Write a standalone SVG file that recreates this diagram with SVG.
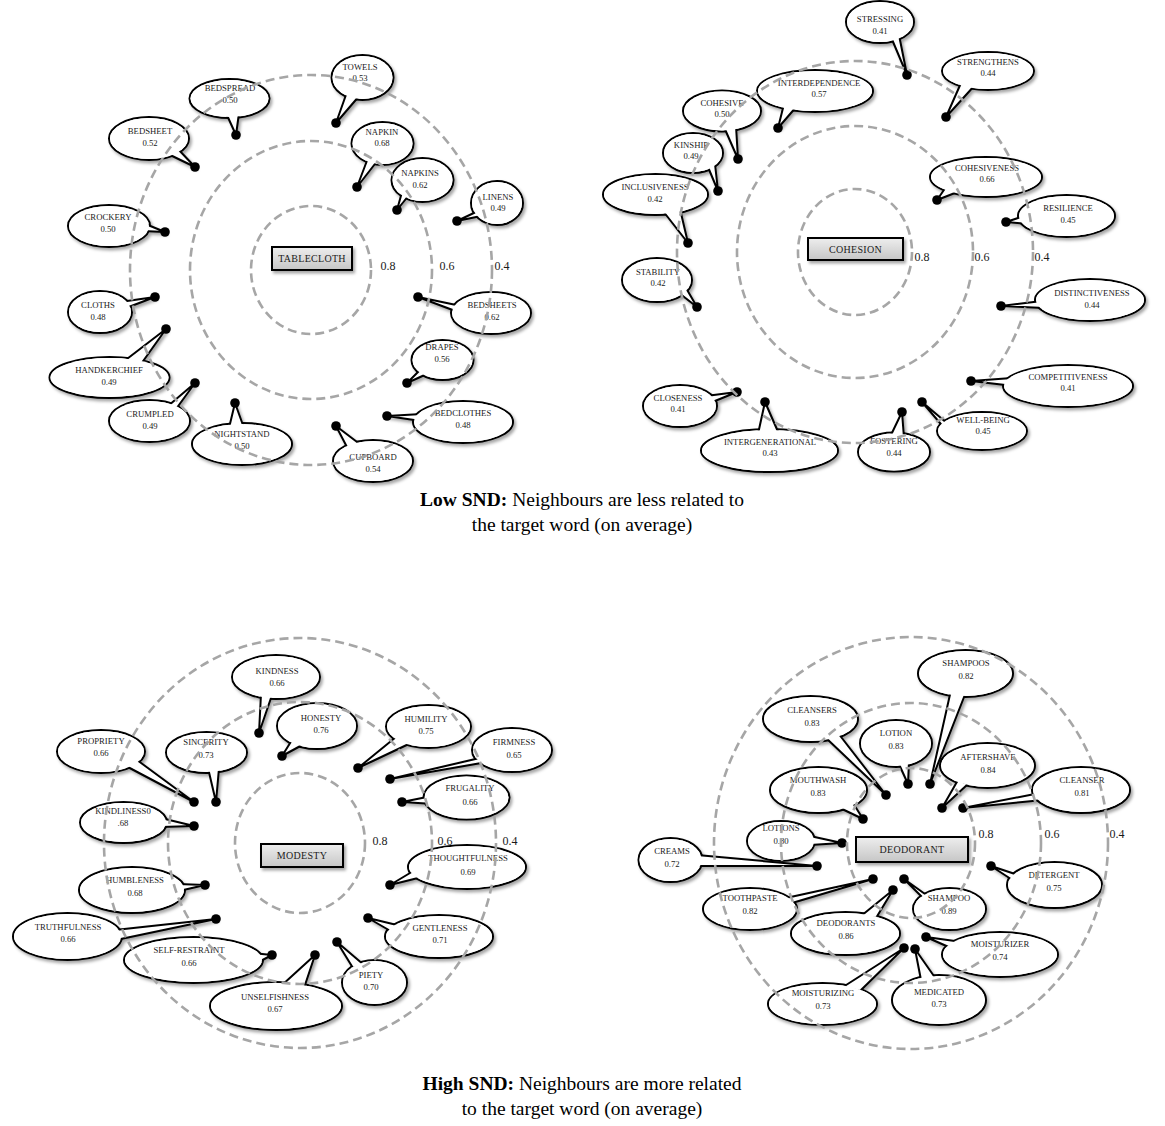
<svg xmlns="http://www.w3.org/2000/svg" width="1165" height="1126" viewBox="0 0 1165 1126">
<style>
.b{fill:#fff;stroke:#000;stroke-width:2}
.c{fill:#fff;stroke:none}
.t{fill:#fff;stroke:#000;stroke-width:2;stroke-linejoin:round}
.s{filter:url(#sh)}
.d{fill:#000}
.l{font-family:"Liberation Serif",serif;font-size:8.7px;text-anchor:middle;fill:#1a1a1a}
.ring{fill:none;stroke:#a6a6a6;stroke-width:2.6;stroke-dasharray:9 5}
.sc{font-family:"Liberation Serif",serif;font-size:12px;text-anchor:middle;fill:#1a1a1a}
.box{fill:url(#gb);stroke:#000;stroke-width:2}
.bt{font-family:"Liberation Serif",serif;font-size:10px;text-anchor:middle;fill:#1a1a1a;letter-spacing:0.3px}
.cap{font-family:"Liberation Serif",serif;font-size:19.5px;text-anchor:middle;fill:#000}
</style>
<defs>
<filter id="sh" x="-20%" y="-20%" width="150%" height="150%"><feDropShadow dx="2" dy="2.5" stdDeviation="1.8" flood-color="#000" flood-opacity="0.35"/></filter>
<linearGradient id="gb" x1="0" y1="0" x2="0" y2="1"><stop offset="0" stop-color="#eeeeee"/><stop offset="1" stop-color="#c6c6c6"/></linearGradient>
</defs>
<rect width="1165" height="1126" fill="#fff"/>

<!-- TABLECLOTH -->
<g id="tablecloth">
<g id="n-bedspread"><g class="s"><ellipse class="b" cx="229.5" cy="98.5" rx="40" ry="19.5"/><polygon class="t" points="226,113 236,135 239,113"/><ellipse class="c" cx="229.5" cy="98.5" rx="39" ry="18.5"/></g><circle class="d" cx="236" cy="135" r="4.8"/><text class="l" x="230" y="91">BEDSPREAD</text><text class="l" x="230" y="103">0.50</text></g>
<g id="n-bedsheet"><g class="s"><ellipse class="b" cx="149" cy="138.5" rx="40" ry="21.5"/><polygon class="t" points="166,153 195,167 177,148"/><ellipse class="c" cx="149" cy="138.5" rx="39" ry="20.5"/></g><circle class="d" cx="195" cy="167" r="4.8"/><text class="l" x="150" y="134">BEDSHEET</text><text class="l" x="150" y="146">0.52</text></g>
<g id="n-crockery"><g class="s"><ellipse class="b" cx="109" cy="226" rx="41" ry="21"/><polygon class="t" points="143,223 165,232 143,231"/><ellipse class="c" cx="109" cy="226" rx="40" ry="20"/></g><circle class="d" cx="165" cy="232" r="4.8"/><text class="l" x="108" y="220">CROCKERY</text><text class="l" x="108" y="232">0.50</text></g>
<g id="n-towels"><g class="s"><ellipse class="b" cx="362.5" cy="77.5" rx="31" ry="22.5"/><polygon class="t" points="347,92 336,123 360,95"/><ellipse class="c" cx="362.5" cy="77.5" rx="30" ry="21.5"/></g><circle class="d" cx="336" cy="123" r="4.8"/><text class="l" x="360" y="70">TOWELS</text><text class="l" x="360" y="81">0.53</text></g>
<g id="n-napkin"><g class="s"><ellipse class="b" cx="382.5" cy="143.5" rx="31" ry="21.5"/><polygon class="t" points="368,158 357,187 378,160"/><ellipse class="c" cx="382.5" cy="143.5" rx="30" ry="20.5"/></g><circle class="d" cx="357" cy="187" r="4.8"/><text class="l" x="382" y="135">NAPKIN</text><text class="l" x="382" y="146">0.68</text></g>
<g id="n-napkins"><g class="s"><ellipse class="b" cx="422.5" cy="180" rx="31" ry="22"/><polygon class="t" points="402,192 397,210 409,195"/><ellipse class="c" cx="422.5" cy="180" rx="30" ry="21"/></g><circle class="d" cx="397" cy="210" r="4.8"/><text class="l" x="420" y="176">NAPKINS</text><text class="l" x="420" y="188">0.62</text></g>
<g id="n-linens"><g class="s"><ellipse class="b" cx="497" cy="203" rx="26" ry="22"/><polygon class="t" points="478,211 457,221 481,216"/><ellipse class="c" cx="497" cy="203" rx="25" ry="21"/></g><circle class="d" cx="457" cy="221" r="4.8"/><text class="l" x="498" y="200">LINENS</text><text class="l" x="498" y="211">0.49</text></g>
<g id="n-cloths"><g class="s"><ellipse class="b" cx="100" cy="312" rx="32" ry="21"/><polygon class="t" points="120,302 155,297 126,308"/><ellipse class="c" cx="100" cy="312" rx="31" ry="20"/></g><circle class="d" cx="155" cy="297" r="4.8"/><text class="l" x="98" y="308">CLOTHS</text><text class="l" x="98" y="320">0.48</text></g>
<g id="n-handkerchief"><g class="s"><ellipse class="b" cx="109.5" cy="377.5" rx="60" ry="20.5"/><polygon class="t" points="123,362 166,329 141,364"/><ellipse class="c" cx="109.5" cy="377.5" rx="59" ry="19.5"/></g><circle class="d" cx="166" cy="329" r="4.8"/><text class="l" x="109" y="373">HANDKERCHIEF</text><text class="l" x="109" y="385">0.49</text></g>
<g id="n-crumpled"><g class="s"><ellipse class="b" cx="149.5" cy="421" rx="40.5" ry="21"/><polygon class="t" points="168,406 195,383 176,409"/><ellipse class="c" cx="149.5" cy="421" rx="39.5" ry="20"/></g><circle class="d" cx="195" cy="383" r="4.8"/><text class="l" x="150" y="417">CRUMPLED</text><text class="l" x="150" y="429">0.49</text></g>
<g id="n-nightstand"><g class="s"><ellipse class="b" cx="242" cy="444" rx="50" ry="21"/><polygon class="t" points="229,428 235,403 244,428"/><ellipse class="c" cx="242" cy="444" rx="49" ry="20"/></g><circle class="d" cx="235" cy="403" r="4.8"/><text class="l" x="242" y="437">NIGHTSTAND</text><text class="l" x="242" y="449">0.50</text></g>
<g id="n-cupboard"><g class="s"><ellipse class="b" cx="373" cy="461" rx="40" ry="21"/><polygon class="t" points="348,449 336,426 361,445"/><ellipse class="c" cx="373" cy="461" rx="39" ry="20"/></g><circle class="d" cx="336" cy="426" r="4.8"/><text class="l" x="373" y="460">CUPBOARD</text><text class="l" x="373" y="472">0.54</text></g>
<g id="n-bedclothes"><g class="s"><ellipse class="b" cx="463" cy="422" rx="50" ry="21"/><polygon class="t" points="422,414 387,416 421,421"/><ellipse class="c" cx="463" cy="422" rx="49" ry="20"/></g><circle class="d" cx="387" cy="416" r="4.8"/><text class="l" x="463" y="416">BEDCLOTHES</text><text class="l" x="463" y="428">0.48</text></g>
<g id="n-drapes"><g class="s"><ellipse class="b" cx="442.5" cy="360" rx="31" ry="20"/><polygon class="t" points="421,369 407,383 429,373"/><ellipse class="c" cx="442.5" cy="360" rx="30" ry="19"/></g><circle class="d" cx="407" cy="383" r="4.8"/><text class="l" x="442" y="350">DRAPES</text><text class="l" x="442" y="362">0.56</text></g>
<g id="n-bedsheets"><g class="s"><ellipse class="b" cx="491" cy="313" rx="40" ry="21"/><polygon class="t" points="461,306 418,297 458,312"/><ellipse class="c" cx="491" cy="313" rx="39" ry="20"/></g><circle class="d" cx="418" cy="297" r="4.8"/><text class="l" x="492" y="308">BEDSHEETS</text><text class="l" x="492" y="320">0.62</text></g>
<g id="t-tablecloth"><rect class="box s" x="272" y="247" width="80" height="23"/><text class="bt" x="312" y="262">TABLECLOTH</text></g>
<g id="r-tablecloth"><ellipse class="ring" cx="311" cy="270" rx="60" ry="64"/><ellipse class="ring" cx="311" cy="270" rx="121" ry="129"/><ellipse class="ring" cx="311" cy="270" rx="181" ry="195"/>
<text class="sc" x="388" y="270">0.8</text><text class="sc" x="447" y="270">0.6</text><text class="sc" x="502" y="270">0.4</text></g>
</g>

<!-- COHESION -->
<g id="cohesion">
<g id="n-stressing"><g class="s"><ellipse class="b" cx="880" cy="22" rx="34" ry="21"/><polygon class="t" points="891,37 907,75 899,35"/><ellipse class="c" cx="880" cy="22" rx="33" ry="20"/></g><circle class="d" cx="907" cy="75" r="4.8"/><text class="l" x="880" y="22">STRESSING</text><text class="l" x="880" y="34">0.41</text></g>
<g id="n-strengthens"><g class="s"><ellipse class="b" cx="988" cy="71" rx="46" ry="19"/><polygon class="t" points="961,83 946,117 975,85"/><ellipse class="c" cx="988" cy="71" rx="45" ry="18"/></g><circle class="d" cx="946" cy="117" r="4.8"/><text class="l" x="988" y="65">STRENGTHENS</text><text class="l" x="988" y="76">0.44</text></g>
<g id="n-interdependence"><g class="s"><ellipse class="b" cx="815" cy="91" rx="58" ry="21"/><polygon class="t" points="784,104 778,128 797,106"/><ellipse class="c" cx="815" cy="91" rx="57" ry="20"/></g><circle class="d" cx="778" cy="128" r="4.8"/><text class="l" x="819" y="86">INTERDEPENDENCE</text><text class="l" x="819" y="97">0.57</text></g>
<g id="n-cohesive"><g class="s"><ellipse class="b" cx="722" cy="111" rx="39" ry="20.5"/><polygon class="t" points="724,127 738,159 736,126"/><ellipse class="c" cx="722" cy="111" rx="38" ry="19.5"/></g><circle class="d" cx="738" cy="159" r="4.8"/><text class="l" x="722" y="106">COHESIVE</text><text class="l" x="722" y="117">0.50</text></g>
<g id="n-kinship"><g class="s"><ellipse class="b" cx="693" cy="153" rx="30" ry="20"/><polygon class="t" points="708,167 718,191 715,164"/><ellipse class="c" cx="693" cy="153" rx="29" ry="19"/></g><circle class="d" cx="718" cy="191" r="4.8"/><text class="l" x="691" y="148">KINSHIP</text><text class="l" x="691" y="159">0.49</text></g>
<g id="n-inclusiveness"><g class="s"><ellipse class="b" cx="655.5" cy="194.5" rx="52.5" ry="20.5"/><polygon class="t" points="663,211 688,243 680,209"/><ellipse class="c" cx="655.5" cy="194.5" rx="51.5" ry="19.5"/></g><circle class="d" cx="688" cy="243" r="4.8"/><text class="l" x="655" y="190">INCLUSIVENESS</text><text class="l" x="655" y="202">0.42</text></g>
<g id="n-stability"><g class="s"><ellipse class="b" cx="657" cy="280" rx="35" ry="22"/><polygon class="t" points="679,293 697,307 686,288"/><ellipse class="c" cx="657" cy="280" rx="34" ry="21"/></g><circle class="d" cx="697" cy="307" r="4.8"/><text class="l" x="658" y="275">STABILITY</text><text class="l" x="658" y="286">0.42</text></g>
<g id="n-cohesiveness"><g class="s"><ellipse class="b" cx="986" cy="177" rx="56" ry="20"/><polygon class="t" points="946,187 937,200 960,191"/><ellipse class="c" cx="986" cy="177" rx="55" ry="19"/></g><circle class="d" cx="937" cy="200" r="4.8"/><text class="l" x="987" y="171">COHESIVENESS</text><text class="l" x="987" y="182">0.66</text></g>
<g id="n-resilience"><g class="s"><ellipse class="b" cx="1066.5" cy="216" rx="48.5" ry="21"/><polygon class="t" points="1024,216 1006,222 1028,224"/><ellipse class="c" cx="1066.5" cy="216" rx="47.5" ry="20"/></g><circle class="d" cx="1006" cy="222" r="4.8"/><text class="l" x="1068" y="211">RESILIENCE</text><text class="l" x="1068" y="223">0.45</text></g>
<g id="n-distinctiveness"><g class="s"><ellipse class="b" cx="1090" cy="300" rx="55" ry="21"/><polygon class="t" points="1042,301 1001,306 1044,308"/><ellipse class="c" cx="1090" cy="300" rx="54" ry="20"/></g><circle class="d" cx="1001" cy="306" r="4.8"/><text class="l" x="1092" y="296">DISTINCTIVENESS</text><text class="l" x="1092" y="308">0.44</text></g>
<g id="n-competitiveness"><g class="s"><ellipse class="b" cx="1068" cy="386" rx="65" ry="21"/><polygon class="t" points="1012,378 971,381 1014,386"/><ellipse class="c" cx="1068" cy="386" rx="64" ry="20"/></g><circle class="d" cx="971" cy="381" r="4.8"/><text class="l" x="1068" y="380">COMPETITIVENESS</text><text class="l" x="1068" y="391">0.41</text></g>
<g id="n-well-being"><g class="s"><ellipse class="b" cx="982" cy="431" rx="45" ry="19"/><polygon class="t" points="948,424 922,402 946,430"/><ellipse class="c" cx="982" cy="431" rx="44" ry="18"/></g><circle class="d" cx="922" cy="402" r="4.8"/><text class="l" x="983" y="423">WELL-BEING</text><text class="l" x="983" y="434">0.45</text></g>
<g id="n-fostering"><g class="s"><ellipse class="b" cx="894" cy="452" rx="36" ry="19.5"/><polygon class="t" points="890,437 902,412 904,438"/><ellipse class="c" cx="894" cy="452" rx="35" ry="18.5"/></g><circle class="d" cx="902" cy="412" r="4.8"/><text class="l" x="894" y="444">FOSTERING</text><text class="l" x="894" y="456">0.44</text></g>
<g id="n-intergenerational"><g class="s"><ellipse class="b" cx="769.5" cy="450.5" rx="68.5" ry="21.5"/><polygon class="t" points="758,434 765,402 779,434"/><ellipse class="c" cx="769.5" cy="450.5" rx="67.5" ry="20.5"/></g><circle class="d" cx="765" cy="402" r="4.8"/><text class="l" x="770" y="445">INTERGENERATIONAL</text><text class="l" x="770" y="456">0.43</text></g>
<g id="n-closeness"><g class="s"><ellipse class="b" cx="680" cy="406" rx="37" ry="21"/><polygon class="t" points="706,396 737,392 710,403"/><ellipse class="c" cx="680" cy="406" rx="36" ry="20"/></g><circle class="d" cx="737" cy="392" r="4.8"/><text class="l" x="678" y="401">CLOSENESS</text><text class="l" x="678" y="412">0.41</text></g>
<g id="t-cohesion"><rect class="box s" x="808" y="238" width="95" height="22"/><text class="bt" x="855.5" y="253">COHESION</text></g>
<g id="r-cohesion"><ellipse class="ring" cx="855" cy="252" rx="57" ry="63"/><ellipse class="ring" cx="855" cy="252" rx="118" ry="126"/><ellipse class="ring" cx="855" cy="252" rx="178" ry="191"/>
<text class="sc" x="922" y="261">0.8</text><text class="sc" x="982" y="261">0.6</text><text class="sc" x="1042" y="261">0.4</text></g>
</g>

<!-- MODESTY -->
<g id="modesty">
<g id="n-kindness"><g class="s"><ellipse class="b" cx="276" cy="677" rx="44" ry="22"/><polygon class="t" points="261,694 259,733 272,695"/><ellipse class="c" cx="276" cy="677" rx="43" ry="21"/></g><circle class="d" cx="259" cy="733" r="4.8"/><text class="l" x="277" y="674">KINDNESS</text><text class="l" x="277" y="686">0.66</text></g>
<g id="n-honesty"><g class="s"><ellipse class="b" cx="317" cy="726" rx="40" ry="23"/><polygon class="t" points="292,740 282,756 304,744"/><ellipse class="c" cx="317" cy="726" rx="39" ry="22"/></g><circle class="d" cx="282" cy="756" r="4.8"/><text class="l" x="321" y="721">HONESTY</text><text class="l" x="321" y="733">0.76</text></g>
<g id="n-humility"><g class="s"><ellipse class="b" cx="428.5" cy="726.5" rx="42.5" ry="21.5"/><polygon class="t" points="396,737 358,768 413,742"/><ellipse class="c" cx="428.5" cy="726.5" rx="41.5" ry="20.5"/></g><circle class="d" cx="358" cy="768" r="4.8"/><text class="l" x="426" y="722">HUMILITY</text><text class="l" x="426" y="734">0.75</text></g>
<g id="n-firmness"><g class="s"><ellipse class="b" cx="512" cy="750" rx="40" ry="22"/><polygon class="t" points="484,757 390,779 487,762"/><ellipse class="c" cx="512" cy="750" rx="39" ry="21"/></g><circle class="d" cx="390" cy="779" r="4.8"/><text class="l" x="514" y="745">FIRMNESS</text><text class="l" x="514" y="758">0.65</text></g>
<g id="n-frugality"><g class="s"><ellipse class="b" cx="466.5" cy="797.5" rx="43" ry="22"/><polygon class="t" points="432,796 402,802 434,804"/><ellipse class="c" cx="466.5" cy="797.5" rx="42" ry="21"/></g><circle class="d" cx="402" cy="802" r="4.8"/><text class="l" x="470" y="791">FRUGALITY</text><text class="l" x="470" y="805">0.66</text></g>
<g id="n-thoughtfulness"><g class="s"><ellipse class="b" cx="467" cy="867" rx="59" ry="22"/><polygon class="t" points="415,870 390,885 418,878"/><ellipse class="c" cx="467" cy="867" rx="58" ry="21"/></g><circle class="d" cx="390" cy="885" r="4.8"/><text class="l" x="468" y="861">THOUGHTFULNESS</text><text class="l" x="468" y="875">0.69</text></g>
<g id="n-gentleness"><g class="s"><ellipse class="b" cx="439" cy="936.5" rx="54" ry="21.5"/><polygon class="t" points="401,926 368,918 394,933"/><ellipse class="c" cx="439" cy="936.5" rx="53" ry="20.5"/></g><circle class="d" cx="368" cy="918" r="4.8"/><text class="l" x="440" y="931">GENTLENESS</text><text class="l" x="440" y="943">0.71</text></g>
<g id="n-piety"><g class="s"><ellipse class="b" cx="374.5" cy="982.5" rx="32.5" ry="22.5"/><polygon class="t" points="353,968 337,942 364,965"/><ellipse class="c" cx="374.5" cy="982.5" rx="31.5" ry="21.5"/></g><circle class="d" cx="337" cy="942" r="4.8"/><text class="l" x="371" y="978">PIETY</text><text class="l" x="371" y="990">0.70</text></g>
<g id="n-unselfishness"><g class="s"><ellipse class="b" cx="276" cy="1006" rx="66" ry="24"/><polygon class="t" points="281,986 315,955 304,988"/><ellipse class="c" cx="276" cy="1006" rx="65" ry="23"/></g><circle class="d" cx="315" cy="955" r="4.8"/><text class="l" x="275" y="1000">UNSELFISHNESS</text><text class="l" x="275" y="1012">0.67</text></g>
<g id="n-self-restraint"><g class="s"><ellipse class="b" cx="193.5" cy="960" rx="69.5" ry="23"/><polygon class="t" points="252,953 272,955 255,964"/><ellipse class="c" cx="193.5" cy="960" rx="68.5" ry="22"/></g><circle class="d" cx="272" cy="955" r="4.8"/><text class="l" x="189" y="953">SELF-RESTRAINT</text><text class="l" x="189" y="966">0.66</text></g>
<g id="n-truthfulness"><g class="s"><ellipse class="b" cx="67.5" cy="936.5" rx="54.5" ry="23.5"/><polygon class="t" points="115,930 216,919 116,940"/><ellipse class="c" cx="67.5" cy="936.5" rx="53.5" ry="22.5"/></g><circle class="d" cx="216" cy="919" r="4.8"/><text class="l" x="68" y="930">TRUTHFULNESS</text><text class="l" x="68" y="942">0.66</text></g>
<g id="n-humbleness"><g class="s"><ellipse class="b" cx="132" cy="890" rx="53" ry="23"/><polygon class="t" points="178,884 205,885 179,891"/><ellipse class="c" cx="132" cy="890" rx="52" ry="22"/></g><circle class="d" cx="205" cy="885" r="4.8"/><text class="l" x="135" y="883">HUMBLENESS</text><text class="l" x="135" y="896">0.68</text></g>
<g id="n-kindliness"><g class="s"><ellipse class="b" cx="123.5" cy="822.5" rx="43.5" ry="20.5"/><polygon class="t" points="161,818 194,826 161,827"/><ellipse class="c" cx="123.5" cy="822.5" rx="42.5" ry="19.5"/></g><circle class="d" cx="194" cy="826" r="4.8"/><text class="l" x="123" y="814">KINDLINESS0</text><text class="l" x="123" y="826">.68</text></g>
<g id="n-propriety"><g class="s"><ellipse class="b" cx="101" cy="751.5" rx="44" ry="21.5"/><polygon class="t" points="124,765 194,802 137,760"/><ellipse class="c" cx="101" cy="751.5" rx="43" ry="20.5"/></g><circle class="d" cx="194" cy="802" r="4.8"/><text class="l" x="101" y="744">PROPRIETY</text><text class="l" x="101" y="756">0.66</text></g>
<g id="n-sincerity"><g class="s"><ellipse class="b" cx="206.5" cy="752.5" rx="40.5" ry="20.5"/><polygon class="t" points="208,768 216,802 219,768"/><ellipse class="c" cx="206.5" cy="752.5" rx="39.5" ry="19.5"/></g><circle class="d" cx="216" cy="802" r="4.8"/><text class="l" x="206" y="745">SINCERITY</text><text class="l" x="206" y="758">0.73</text></g>
<g id="t-modesty"><rect class="box s" x="261" y="844" width="82" height="23"/><text class="bt" x="302" y="859">MODESTY</text></g>
<g id="r-modesty"><ellipse class="ring" cx="300" cy="843" rx="65" ry="70"/><ellipse class="ring" cx="300" cy="843" rx="132" ry="141"/><ellipse class="ring" cx="300" cy="843" rx="196" ry="205"/>
<text class="sc" x="380" y="845">0.8</text><text class="sc" x="445" y="845">0.6</text><text class="sc" x="510" y="845">0.4</text></g>
</g>

<!-- DEODORANT -->
<g id="deodorant">
<g id="n-shampoos"><g class="s"><ellipse class="b" cx="965.5" cy="673.5" rx="47.5" ry="23.5"/><polygon class="t" points="951,690 930,784 966,692"/><ellipse class="c" cx="965.5" cy="673.5" rx="46.5" ry="22.5"/></g><circle class="d" cx="930" cy="784" r="4.8"/><text class="l" x="966" y="666">SHAMPOOS</text><text class="l" x="966" y="679">0.82</text></g>
<g id="n-lotion"><g class="s"><ellipse class="b" cx="896" cy="743.5" rx="36" ry="23.5"/><polygon class="t" points="898,762 908,784 909,761"/><ellipse class="c" cx="896" cy="743.5" rx="35" ry="22.5"/></g><circle class="d" cx="908" cy="784" r="4.8"/><text class="l" x="896" y="736">LOTION</text><text class="l" x="896" y="749">0.83</text></g>
<g id="n-aftershave"><g class="s"><ellipse class="b" cx="987.5" cy="765.5" rx="47.5" ry="22.5"/><polygon class="t" points="958,780 942,808 968,784"/><ellipse class="c" cx="987.5" cy="765.5" rx="46.5" ry="21.5"/></g><circle class="d" cx="942" cy="808" r="4.8"/><text class="l" x="988" y="760">AFTERSHAVE</text><text class="l" x="988" y="773">0.84</text></g>
<g id="n-cleanser"><g class="s"><ellipse class="b" cx="1081" cy="790" rx="49" ry="23"/><polygon class="t" points="1040,793 963,808 1043,800"/><ellipse class="c" cx="1081" cy="790" rx="48" ry="22"/></g><circle class="d" cx="963" cy="808" r="4.8"/><text class="l" x="1082" y="783">CLEANSER</text><text class="l" x="1082" y="796">0.81</text></g>
<g id="n-cleansers"><g class="s"><ellipse class="b" cx="810.5" cy="719" rx="47.5" ry="23"/><polygon class="t" points="825,737 886,795 838,733"/><ellipse class="c" cx="810.5" cy="719" rx="46.5" ry="22"/></g><circle class="d" cx="886" cy="795" r="4.8"/><text class="l" x="812" y="713">CLEANSERS</text><text class="l" x="812" y="726">0.83</text></g>
<g id="n-mouthwash"><g class="s"><ellipse class="b" cx="818.5" cy="790" rx="48.5" ry="23"/><polygon class="t" points="840,808 863,819 853,803"/><ellipse class="c" cx="818.5" cy="790" rx="47.5" ry="22"/></g><circle class="d" cx="863" cy="819" r="4.8"/><text class="l" x="818" y="783">MOUTHWASH</text><text class="l" x="818" y="796">0.83</text></g>
<g id="n-lotions"><g class="s"><ellipse class="b" cx="781" cy="841" rx="34" ry="20"/><polygon class="t" points="810,836 842,843 810,845"/><ellipse class="c" cx="781" cy="841" rx="33" ry="19"/></g><circle class="d" cx="842" cy="843" r="4.8"/><text class="l" x="781" y="831">LOTIONS</text><text class="l" x="781" y="844">0.80</text></g>
<g id="n-creams"><g class="s"><ellipse class="b" cx="670.5" cy="860" rx="32" ry="22"/><polygon class="t" points="697,855 817,866 697,866"/><ellipse class="c" cx="670.5" cy="860" rx="31" ry="21"/></g><circle class="d" cx="817" cy="866" r="4.8"/><text class="l" x="672" y="854">CREAMS</text><text class="l" x="672" y="867">0.72</text></g>
<g id="n-toothpaste"><g class="s"><ellipse class="b" cx="750" cy="909" rx="47" ry="21"/><polygon class="t" points="786,898 873,879 792,903"/><ellipse class="c" cx="750" cy="909" rx="46" ry="20"/></g><circle class="d" cx="873" cy="879" r="4.8"/><text class="l" x="750" y="901">TOOTHPASTE</text><text class="l" x="750" y="914">0.82</text></g>
<g id="n-deodorants"><g class="s"><ellipse class="b" cx="845.5" cy="933.5" rx="54.5" ry="21.5"/><polygon class="t" points="861,916 893,890 876,918"/><ellipse class="c" cx="845.5" cy="933.5" rx="53.5" ry="20.5"/></g><circle class="d" cx="893" cy="890" r="4.8"/><text class="l" x="846" y="926">DEODORANTS</text><text class="l" x="846" y="939">0.86</text></g>
<g id="n-shampoo"><g class="s"><ellipse class="b" cx="949.5" cy="909" rx="36.5" ry="21"/><polygon class="t" points="923,898 904,879 932,899"/><ellipse class="c" cx="949.5" cy="909" rx="35.5" ry="20"/></g><circle class="d" cx="904" cy="879" r="4.8"/><text class="l" x="949" y="901">SHAMPOO</text><text class="l" x="949" y="914">0.89</text></g>
<g id="n-detergent"><g class="s"><ellipse class="b" cx="1054.5" cy="885" rx="47.5" ry="23"/><polygon class="t" points="1018,875 991,866 1014,881"/><ellipse class="c" cx="1054.5" cy="885" rx="46.5" ry="22"/></g><circle class="d" cx="991" cy="866" r="4.8"/><text class="l" x="1054" y="878">DETERGENT</text><text class="l" x="1054" y="891">0.75</text></g>
<g id="n-moisturizer"><g class="s"><ellipse class="b" cx="1000" cy="954.5" rx="58" ry="22.5"/><polygon class="t" points="962,942 926,937 951,948"/><ellipse class="c" cx="1000" cy="954.5" rx="57" ry="21.5"/></g><circle class="d" cx="926" cy="937" r="4.8"/><text class="l" x="1000" y="947">MOISTURIZER</text><text class="l" x="1000" y="960">0.74</text></g>
<g id="n-medicated"><g class="s"><ellipse class="b" cx="939" cy="1000" rx="47" ry="25"/><polygon class="t" points="921,980 915,949 936,979"/><ellipse class="c" cx="939" cy="1000" rx="46" ry="24"/></g><circle class="d" cx="915" cy="949" r="4.8"/><text class="l" x="939" y="995">MEDICATED</text><text class="l" x="939" y="1007">0.73</text></g>
<g id="n-moisturizing"><g class="s"><ellipse class="b" cx="822.5" cy="1004" rx="54.5" ry="21"/><polygon class="t" points="843,987 904,948 860,991"/><ellipse class="c" cx="822.5" cy="1004" rx="53.5" ry="20"/></g><circle class="d" cx="904" cy="948" r="4.8"/><text class="l" x="823" y="996">MOISTURIZING</text><text class="l" x="823" y="1009">0.73</text></g>
<g id="t-deodorant"><rect class="box s" x="856" y="837" width="112" height="25"/><text class="bt" x="912" y="853">DEODORANT</text></g>
<g id="r-deodorant"><ellipse class="ring" cx="911" cy="843" rx="64" ry="75"/><ellipse class="ring" cx="911" cy="843" rx="130" ry="140"/><ellipse class="ring" cx="911" cy="843" rx="197" ry="206"/>
<text class="sc" x="986" y="838">0.8</text><text class="sc" x="1052" y="838">0.6</text><text class="sc" x="1117" y="838">0.4</text></g>
</g>

<g id="captions">
<text class="cap" x="582" y="506"><tspan font-weight="bold">Low SND:</tspan> Neighbours are less related to</text>
<text class="cap" x="582" y="531">the target word (on average)</text>
<text class="cap" x="582" y="1090"><tspan font-weight="bold">High SND:</tspan> Neighbours are more related</text>
<text class="cap" x="582" y="1115">to the target word (on average)</text>
</g>
</svg>
